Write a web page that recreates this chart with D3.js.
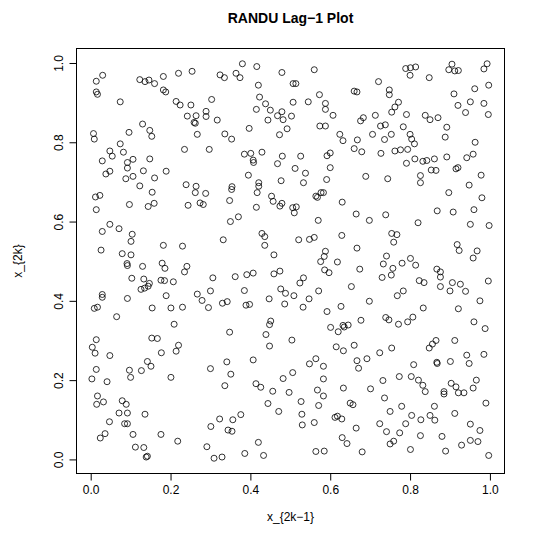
<!DOCTYPE html>
<html>
<head>
<meta charset="utf-8">
<script src="https://cdn.jsdelivr.net/npm/d3@7"></script>
<style>
  html, body { margin: 0; padding: 0; background: #fff; }
  text { font-family: "Liberation Sans", Arial, Helvetica, sans-serif; fill: #000; }
</style>
</head>
<body>
<svg></svg>
<script>
// pairs of [x_{2k-1}, x_{2k}]
const lagPairs = [
    [0.030,0.969],[0.014,0.954],[0.014,0.927],[0.017,0.921],[0.074,0.902],[0.123,0.958],[0.136,0.953],[0.146,0.957],
    [0.160,0.948],[0.182,0.966],[0.182,0.932],[0.188,0.927],[0.130,0.846],[0.096,0.825],[0.148,0.830],[0.153,0.815],
    [0.007,0.822],[0.009,0.808],[0.074,0.796],[0.048,0.778],[0.054,0.765],[0.082,0.775],[0.029,0.753],[0.106,0.757],
    [0.092,0.749],[0.092,0.735],[0.148,0.758],[0.038,0.720],[0.048,0.727],[0.132,0.728],[0.189,0.727],[0.088,0.708],
    [0.106,0.714],[0.160,0.710],[0.123,0.690],
    [0.220,0.974],[0.254,0.979],[0.324,0.970],[0.335,0.963],[0.364,0.974],[0.374,0.963],[0.380,0.998],[0.416,0.991],
    [0.420,0.944],[0.423,0.914],[0.415,0.883],[0.438,0.897],[0.450,0.881],[0.444,0.856],[0.214,0.903],[0.224,0.894],
    [0.251,0.894],[0.303,0.908],[0.242,0.866],[0.264,0.867],[0.259,0.850],[0.262,0.848],[0.289,0.878],[0.289,0.865],
    [0.317,0.856],[0.267,0.820],[0.336,0.821],[0.353,0.808],[0.397,0.835],[0.235,0.782],[0.297,0.782],[0.385,0.770],
    [0.401,0.772],[0.407,0.755],[0.408,0.749],[0.429,0.775],[0.395,0.717],[0.239,0.693],[0.264,0.689],[0.354,0.688],
    [0.353,0.681],[0.421,0.698],[0.421,0.689],
    [0.479,0.976],[0.560,0.983],[0.507,0.948],[0.514,0.948],[0.573,0.920],[0.507,0.901],[0.545,0.902],[0.588,0.898],
    [0.588,0.883],[0.607,0.868],[0.468,0.867],[0.479,0.877],[0.482,0.857],[0.503,0.866],[0.492,0.834],[0.473,0.819],
    [0.574,0.841],[0.588,0.841],[0.660,0.929],[0.667,0.927],[0.683,0.862],[0.676,0.854],[0.713,0.868],[0.624,0.820],
    [0.632,0.804],[0.668,0.806],[0.660,0.784],[0.679,0.776],[0.706,0.820],[0.480,0.765],[0.468,0.746],[0.526,0.765],
    [0.592,0.766],[0.600,0.773],[0.512,0.734],[0.538,0.722],[0.600,0.736],[0.477,0.703],[0.533,0.698],[0.591,0.706],
    [0.689,0.714],
    [0.789,0.986],[0.801,0.988],[0.814,0.990],[0.800,0.969],[0.848,0.963],[0.905,0.997],[0.897,0.983],[0.912,0.980],
    [0.921,0.981],[0.721,0.953],[0.748,0.932],[0.748,0.920],[0.910,0.922],[0.920,0.893],[0.939,0.875],[0.951,0.902],
    [0.771,0.901],[0.762,0.889],[0.754,0.876],[0.791,0.870],[0.838,0.868],[0.850,0.857],[0.870,0.862],[0.892,0.838],
    [0.888,0.813],[0.726,0.841],[0.738,0.844],[0.753,0.820],[0.736,0.807],[0.783,0.839],[0.800,0.820],[0.804,0.808],
    [0.811,0.796],[0.727,0.772],[0.762,0.778],[0.776,0.781],[0.794,0.782],[0.791,0.747],[0.812,0.758],[0.832,0.752],
    [0.842,0.754],[0.861,0.758],[0.892,0.763],[0.942,0.761],[0.853,0.730],[0.865,0.729],[0.915,0.733],[0.920,0.736],
    [0.744,0.708],[0.826,0.716],[0.826,0.698],[0.948,0.692],
    [0.012,0.662],[0.023,0.666],[0.014,0.630],[0.097,0.643],[0.144,0.638],[0.159,0.646],[0.154,0.674],[0.048,0.593],
    [0.029,0.575],[0.071,0.582],[0.104,0.568],[0.101,0.550],[0.026,0.528],[0.079,0.519],[0.101,0.516],[0.091,0.494],
    [0.092,0.489],[0.130,0.487],[0.182,0.540],[0.179,0.495],[0.186,0.482],[0.103,0.457],[0.133,0.455],[0.126,0.429],
    [0.135,0.432],[0.144,0.437],[0.147,0.444],[0.176,0.452],[0.185,0.451],[0.207,0.448],[0.189,0.413],[0.029,0.416],
    [0.029,0.409],[0.092,0.406],[0.009,0.381],[0.017,0.384],[0.154,0.382],[0.201,0.382],[0.065,0.360],[0.209,0.341],
    [0.262,0.673],[0.288,0.671],[0.417,0.673],[0.244,0.641],[0.274,0.647],[0.282,0.643],[0.348,0.653],[0.415,0.636],
    [0.453,0.664],[0.457,0.651],[0.370,0.612],[0.350,0.600],[0.429,0.570],[0.436,0.562],[0.436,0.540],[0.332,0.554],
    [0.459,0.516],[0.230,0.538],[0.241,0.487],[0.235,0.473],[0.306,0.458],[0.362,0.461],[0.391,0.466],[0.407,0.470],
    [0.459,0.468],[0.267,0.417],[0.279,0.401],[0.300,0.425],[0.385,0.426],[0.230,0.384],[0.295,0.383],[0.330,0.394],
    [0.342,0.398],[0.389,0.389],[0.398,0.391],[0.447,0.405],[0.451,0.349],[0.448,0.340],[0.348,0.321],[0.439,0.315],
    [0.564,0.664],[0.568,0.661],[0.577,0.673],[0.583,0.673],[0.474,0.639],[0.479,0.646],[0.506,0.635],[0.515,0.637],
    [0.510,0.622],[0.630,0.649],[0.665,0.619],[0.698,0.603],[0.570,0.603],[0.521,0.554],[0.548,0.555],[0.560,0.560],
    [0.629,0.565],[0.588,0.525],[0.585,0.512],[0.576,0.499],[0.618,0.498],[0.667,0.533],[0.674,0.480],[0.586,0.478],
    [0.597,0.471],[0.474,0.475],[0.533,0.458],[0.524,0.445],[0.476,0.430],[0.488,0.419],[0.509,0.413],[0.571,0.425],
    [0.547,0.405],[0.486,0.392],[0.532,0.384],[0.653,0.436],[0.698,0.399],[0.627,0.386],[0.592,0.373],[0.677,0.351],
    [0.601,0.333],[0.632,0.338],[0.635,0.334],[0.645,0.339],[0.620,0.322],
    [0.897,0.673],[0.739,0.617],[0.868,0.627],[0.908,0.624],[0.820,0.597],[0.951,0.593],[0.754,0.570],[0.767,0.567],
    [0.759,0.548],[0.918,0.542],[0.923,0.527],[0.741,0.513],[0.733,0.493],[0.757,0.482],[0.753,0.465],[0.730,0.459],
    [0.780,0.495],[0.801,0.507],[0.814,0.490],[0.867,0.480],[0.876,0.473],[0.876,0.460],[0.823,0.451],[0.835,0.446],
    [0.876,0.436],[0.906,0.446],[0.900,0.425],[0.926,0.442],[0.939,0.424],[0.768,0.413],[0.783,0.425],[0.833,0.382],
    [0.921,0.380],[0.739,0.358],[0.747,0.352],[0.771,0.341],[0.794,0.347],[0.807,0.359],
    [0.014,0.302],[0.004,0.283],[0.011,0.268],[0.048,0.262],[0.014,0.227],[0.003,0.203],[0.041,0.196],[0.153,0.306],
    [0.167,0.305],[0.177,0.269],[0.142,0.247],[0.151,0.235],[0.127,0.224],[0.097,0.225],[0.100,0.207],[0.201,0.207],
    [0.017,0.160],[0.015,0.139],[0.032,0.145],[0.079,0.148],[0.089,0.139],[0.071,0.117],[0.092,0.117],[0.136,0.114],
    [0.047,0.095],[0.085,0.090],[0.092,0.090],[0.024,0.054],[0.036,0.065],[0.106,0.063],[0.176,0.063],[0.112,0.031],
    [0.133,0.030],[0.139,0.006],[0.142,0.008],
    [0.220,0.288],[0.214,0.273],[0.448,0.286],[0.300,0.229],[0.341,0.246],[0.351,0.215],[0.336,0.186],[0.407,0.251],
    [0.414,0.191],[0.426,0.182],[0.456,0.172],[0.444,0.141],[0.376,0.113],[0.323,0.102],[0.356,0.100],[0.301,0.083],
    [0.344,0.074],[0.354,0.071],[0.218,0.046],[0.291,0.032],[0.420,0.043],[0.309,0.003],[0.329,0.006],[0.386,0.015],
    [0.433,0.010],
    [0.504,0.301],[0.615,0.284],[0.633,0.274],[0.660,0.288],[0.667,0.249],[0.671,0.230],[0.692,0.254],[0.548,0.241],
    [0.564,0.254],[0.583,0.235],[0.583,0.203],[0.506,0.219],[0.482,0.204],[0.497,0.169],[0.471,0.121],[0.568,0.175],
    [0.583,0.160],[0.633,0.180],[0.701,0.178],[0.527,0.146],[0.571,0.136],[0.650,0.142],[0.657,0.138],[0.529,0.114],
    [0.530,0.087],[0.560,0.093],[0.612,0.106],[0.618,0.109],[0.629,0.102],[0.665,0.079],[0.630,0.055],[0.642,0.040],
    [0.564,0.020],[0.585,0.021],[0.680,0.019],
    [0.724,0.269],[0.754,0.281],[0.848,0.281],[0.856,0.291],[0.865,0.300],[0.912,0.300],[0.867,0.245],[0.868,0.242],
    [0.901,0.247],[0.942,0.263],[0.948,0.242],[0.809,0.239],[0.732,0.199],[0.773,0.209],[0.803,0.209],[0.821,0.200],
    [0.832,0.187],[0.838,0.171],[0.885,0.171],[0.885,0.165],[0.903,0.192],[0.915,0.183],[0.921,0.168],[0.935,0.168],
    [0.736,0.155],[0.779,0.134],[0.861,0.134],[0.750,0.121],[0.804,0.111],[0.827,0.100],[0.850,0.111],[0.862,0.099],
    [0.912,0.116],[0.724,0.090],[0.789,0.090],[0.741,0.070],[0.774,0.067],[0.826,0.060],[0.880,0.058],[0.750,0.039],
    [0.759,0.046],[0.801,0.025],[0.889,0.021],[0.929,0.036],[0.951,0.048],[0.951,0.089],
    [0.993,0.998],[0.985,0.985],[0.997,0.944],[0.985,0.898],[0.996,0.870],[0.962,0.935],[0.963,0.800],[0.958,0.770],
    [0.978,0.717],[0.980,0.660],[0.960,0.630],[0.998,0.590],[0.968,0.526],[0.958,0.508],[0.996,0.450],[0.975,0.400],
    [0.960,0.347],[0.988,0.330],[0.985,0.265],[0.966,0.200],[0.958,0.180],[0.990,0.142],[0.975,0.073],[0.970,0.045],
    [0.997,0.010]
];

const tickValues = [0, 0.2, 0.4, 0.6, 0.8, 1.0];
const tickLabels = ["0.0", "0.2", "0.4", "0.6", "0.8", "1.0"];
const titleText = "RANDU Lag\u22121 Plot";
const xTitle = "x_{2k\u22121}";
const yTitle = "x_{2k}";

function main() {
    const width = 541;
    const height = 542;
    const box = {left: 76, right: 505, top: 48, bottom: 474};

    // R style limits: data range padded by 4% on each side
    function rLimits(vals) {
        const lo = d3.min(vals), hi = d3.max(vals);
        const pad = (hi - lo) * 0.04;
        return [lo - pad, hi + pad];
    }

    const xScale = d3.scaleLinear()
        .domain(rLimits(lagPairs.map(d => d[0])))
        .range([box.left, box.right]);
    const yScale = d3.scaleLinear()
        .domain(rLimits(lagPairs.map(d => d[1])))
        .range([box.bottom, box.top]);

    const svg = d3.select("svg")
        .attr("width", width)
        .attr("height", height);

    svg.append("rect")
        .attr("width", width).attr("height", height)
        .attr("fill", "#fff");

    // points, open circles like pch = 1
    svg.append("g")
        .selectAll("circle")
        .data(lagPairs)
        .enter()
        .append("circle")
        .attr("cx", d => xScale(d[0]))
        .attr("cy", d => yScale(d[1]))
        .attr("r", 3)
        .attr("fill", "none")
        .attr("stroke", "#000")
        .attr("stroke-width", 0.8);

    // frame
    svg.append("rect")
        .attr("x", box.left + 0.5).attr("y", box.top + 0.5)
        .attr("width", box.right - box.left - 1)
        .attr("height", box.bottom - box.top - 1)
        .attr("fill", "none")
        .attr("stroke", "#000")
        .attr("stroke-width", 1);

    const xAxis = d3.axisBottom(xScale)
        .tickValues(tickValues)
        .tickFormat((d, i) => tickLabels[i])
        .tickSize(7)
        .tickPadding(5);

    const yAxis = d3.axisLeft(yScale)
        .tickValues(tickValues)
        .tickFormat((d, i) => tickLabels[i])
        .tickSize(7)
        .tickPadding(5);

    const gx = svg.append("g")
        .attr("transform", `translate(0,${box.bottom - 0.5})`)
        .call(xAxis);
    gx.select(".domain").remove();
    gx.append("line")
        .attr("x1", xScale(tickValues[0])).attr("x2", xScale(tickValues[tickValues.length - 1]))
        .attr("stroke", "#000");
    gx.selectAll("text")
        .attr("font-size", 12)
        .attr("font-family", "Liberation Sans, Arial, sans-serif")
        .attr("fill", "#000");

    const gy = svg.append("g")
        .attr("transform", `translate(${box.left + 0.5},0)`)
        .call(yAxis);
    gy.select(".domain").remove();
    gy.append("line")
        .attr("y1", yScale(tickValues[0])).attr("y2", yScale(tickValues[tickValues.length - 1]))
        .attr("stroke", "#000");
    // labels parallel to the axis, as R does by default
    gy.selectAll(".tick text")
        .attr("font-size", 12)
        .attr("font-family", "Liberation Sans, Arial, sans-serif")
        .attr("fill", "#000")
        .attr("x", null).attr("dy", null)
        .attr("text-anchor", "middle")
        .attr("transform", "translate(-14,0) rotate(-90)");

    const mid = (box.left + box.right) / 2;

    svg.append("text")
        .attr("x", mid).attr("y", 23)
        .attr("text-anchor", "middle")
        .attr("font-size", 14)
        .attr("font-weight", "bold")
        .text(titleText);

    svg.append("text")
        .attr("x", mid).attr("y", 521)
        .attr("text-anchor", "middle")
        .attr("font-size", 12)
        .text(xTitle);

    svg.append("text")
        .attr("transform", `translate(22,${(box.top + box.bottom) / 2}) rotate(-90)`)
        .attr("text-anchor", "middle")
        .attr("font-size", 12)
        .text(yTitle);
}

main();
</script>
</body>
</html>
